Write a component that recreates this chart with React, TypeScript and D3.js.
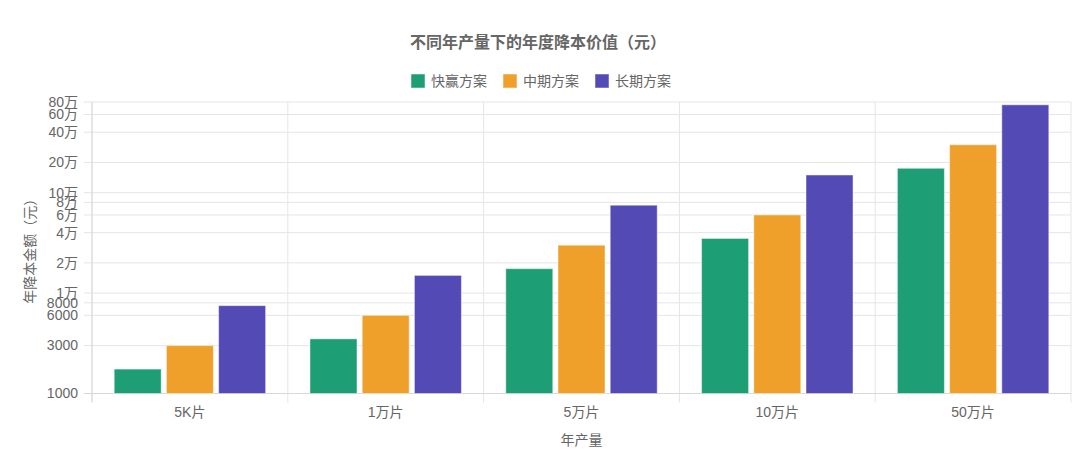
import React from "react";
import * as d3 from "d3";

const categories = ["5K片", "1万片", "5万片", "10万片", "50万片"];
const seriesNames = ["快赢方案", "中期方案", "长期方案"];
const quickWin = [1750, 3500, 17500, 35000, 175000];
const midTerm = [3000, 6000, 30000, 60000, 300000];
const longTerm = [7500, 15000, 75000, 150000, 750000];
const seriesColors = ["#1d9e75", "#efa02a", "#534ab6"];
const yTicks = [1000, 3000, 6000, 8000, 10000, 20000, 40000, 60000, 80000, 100000, 200000, 400000, 600000, 800000];

const W = 1080;
const H = 454;
const left = 92;
const right = 1071;
const top = 102;
const bottom = 393.5;
const FONT = "'Liberation Sans', 'Noto Sans CJK SC', sans-serif";
const TXT = "#666";
const GRID = "#e5e5e5";

const fmt = (v: number) => (v >= 10000 ? `${v / 10000}万` : `${v}`);

export default function App() {
  const series = [quickWin, midTerm, longTerm];
  const x0 = d3.scaleBand<string>().domain(categories).range([left, right]).paddingInner(0).paddingOuter(0);
  const groupPad = x0.bandwidth() * 0.1;
  const x1 = d3
    .scaleBand<number>()
    .domain([0, 1, 2])
    .range([groupPad, x0.bandwidth() - groupPad])
    .paddingInner(0);
  const barW = x1.bandwidth() * 0.9;
  const y = d3.scaleLog().domain([1000, 800000]).range([bottom, top]);

  const legendX = [411, 503, 595];

  return (
    <svg
      width={W}
      height={H}
      style={{ position: "absolute", left: 0, top: 0, background: "#fff" }}
      fontFamily={FONT}
    >
      <text x={538} y={48} textAnchor="middle" fontSize={16} fontWeight="bold" fill={TXT}>
        不同年产量下的年度降本价值（元）
      </text>
      {seriesNames.map((n, i) => (
        <g key={n}>
          <rect x={legendX[i]} y={74} width={14} height={14} fill={seriesColors[i]} stroke="rgba(255,255,255,0.5)" strokeWidth={1} />
          <text x={legendX[i] + 20} y={86} fontSize={14} fill={TXT}>
            {n}
          </text>
        </g>
      ))}
      {/* horizontal grid */}
      {yTicks.map((t) => (
        <g key={t}>
          <line x1={left - 8} x2={right} y1={y(t)} y2={y(t)} stroke={GRID} strokeWidth={1} />
          <text x={78} y={y(t)} dy="0.35em" textAnchor="end" fontSize={14} fill={TXT}>
            {fmt(t)}
          </text>
        </g>
      ))}
      {/* vertical grid */}
      {categories.map((c) => (
        <line key={c} x1={x0(c)!} x2={x0(c)!} y1={top} y2={bottom + 9} stroke={GRID} strokeWidth={1} />
      ))}
      <line x1={right} x2={right} y1={top} y2={bottom + 9} stroke={GRID} strokeWidth={1} />
      {/* axis lines */}
      <line x1={left} x2={left} y1={top} y2={bottom + 9} stroke="#d8d8d8" strokeWidth={1} />
      <line x1={left - 8} x2={right} y1={bottom} y2={bottom} stroke="#d8d8d8" strokeWidth={1} />
      {/* bars */}
      {categories.map((c, ci) =>
        series.map((s, si) => {
          const bx = x0(c)! + x1(si)! + (x1.bandwidth() - barW) / 2;
          const by = y(s[ci]);
          return (
            <rect
              key={c + si}
              x={bx}
              y={by}
              width={barW}
              height={bottom - by}
              fill={seriesColors[si]}
              stroke="rgba(255,255,255,0.45)"
              strokeWidth={1}
            />
          );
        })
      )}
      {categories.map((c) => (
        <text key={c} x={x0(c)! + x0.bandwidth() / 2} y={417} textAnchor="middle" fontSize={14} fill={TXT}>
          {c}
        </text>
      ))}
      <text x={(left + right) / 2} y={445} textAnchor="middle" fontSize={14} fill={TXT}>
        年产量
      </text>
      <text
        transform={`translate(35, ${(top + bottom) / 2}) rotate(-90)`}
        textAnchor="middle"
        fontSize={14}
        fill={TXT}
      >
        年降本金额（元）
      </text>
    </svg>
  );
}
